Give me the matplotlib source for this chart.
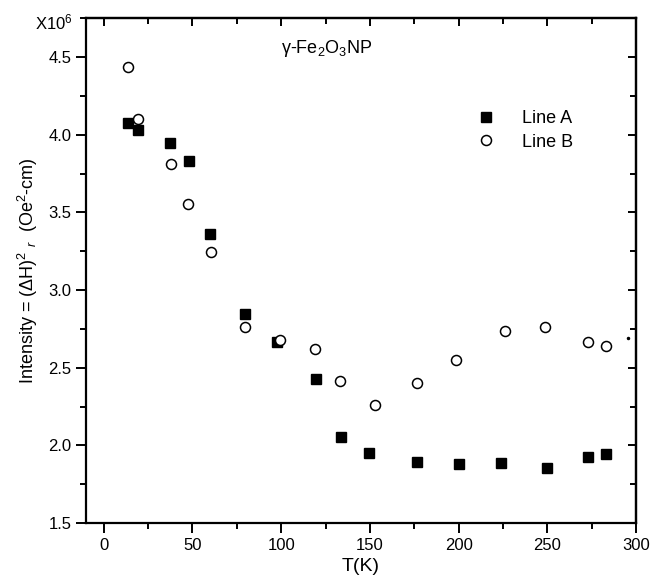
import matplotlib
matplotlib.use('Agg')
import matplotlib.pyplot as plt
from matplotlib.ticker import MultipleLocator

plt.rcParams['font.family'] = ['Liberation Sans', 'DejaVu Sans']
plt.rcParams['mathtext.fontset'] = 'custom'
plt.rcParams['mathtext.rm'] = 'Liberation Sans'
plt.rcParams['mathtext.it'] = 'Liberation Sans:italic'

# Line A (filled squares)
t_a = [13.4, 19.5, 37.2, 48.3, 59.8, 79.9, 97.4, 119.8, 133.5, 149.5,
       176.5, 200.1, 223.8, 249.7, 272.9, 283.3]
int_a = [4.075, 4.03, 3.946, 3.834, 3.362, 2.849, 2.668, 2.428, 2.056, 1.949,
         1.893, 1.882, 1.887, 1.852, 1.927, 1.947]

# Line B (open circles)
t_b = [13.4, 19.4, 37.8, 47.6, 60.7, 79.9, 99.3, 119.2, 133.3, 153.0,
       176.7, 198.5, 226.4, 248.6, 272.8, 282.9]
int_b = [4.434, 4.103, 3.81, 3.555, 3.248, 2.761, 2.679, 2.619, 2.413, 2.262,
         2.40, 2.552, 2.735, 2.761, 2.668, 2.64]

# stray dot near the right edge
t_dot = [295.4]
int_dot = [2.694]

fig = plt.figure(figsize=(6.65, 5.83), dpi=100)
ax = fig.add_axes([0.1293, 0.1029, 0.8271, 0.8657])

ax.plot(t_a, int_a, linestyle='none', marker='s', markersize=6.5,
        color='black', label='Line A')
ax.plot(t_b, int_b, linestyle='none', marker='o', markersize=7.2,
        markerfacecolor='white', markeredgecolor='black', markeredgewidth=1.1,
        label='Line B')
ax.plot(t_dot, int_dot, linestyle='none', marker='o', markersize=1.5, color='black')

ax.set_xlim(-10, 300)
ax.set_ylim(1.5, 4.75)
ax.xaxis.set_major_locator(MultipleLocator(50))
ax.xaxis.set_minor_locator(MultipleLocator(25))
ax.yaxis.set_major_locator(MultipleLocator(0.5))
ax.yaxis.set_minor_locator(MultipleLocator(0.25))
ax.yaxis.set_major_formatter(matplotlib.ticker.FormatStrFormatter('%.1f'))

for s in ax.spines.values():
    s.set_linewidth(1.6)

ax.tick_params(which='both', direction='out', top=False, right=False,
               labelsize=12, width=1.4)
ax.tick_params(which='major', length=7)
ax.tick_params(which='minor', length=4)

# inward ticks on the top and right sides
ax_top = ax.secondary_xaxis('top')
ax_top.xaxis.set_major_locator(MultipleLocator(50))
ax_top.xaxis.set_minor_locator(MultipleLocator(25))
ax_top.tick_params(which='both', direction='in', labeltop=False, width=1.4)
ax_top.tick_params(which='major', length=6)
ax_top.tick_params(which='minor', length=4)
ax_right = ax.secondary_yaxis('right')
ax_right.yaxis.set_major_locator(MultipleLocator(0.5))
ax_right.yaxis.set_minor_locator(MultipleLocator(0.25))
ax_right.tick_params(which='both', direction='in', labelright=False, width=1.4)
ax_right.tick_params(which='major', length=6)
ax_right.tick_params(which='minor', length=4)
ax_top.spines['top'].set_linewidth(1.6)
ax_right.spines['right'].set_linewidth(1.6)

ax.set_xlabel('T(K)', fontsize=14, labelpad=4)
ax.set_ylabel(r'Intensity = ($\Delta$H)$^{2}$ $_{r}$  (Oe$^{2}$-cm)', fontsize=13, labelpad=6)

ax.text(0.355, 0.94, r'γ-Fe$_{2}$O$_{3}$NP', transform=ax.transAxes,
        fontsize=13, ha='left', va='center')
fig.text(0.052, 0.962, r'X10$^{6}$', fontsize=12, ha='left', va='center')

ax.legend(loc='upper left', bbox_to_anchor=(0.665, 0.85), frameon=False,
          fontsize=13, handletextpad=1.0, labelspacing=0.35)

fig.savefig('out.png', dpi=100)
